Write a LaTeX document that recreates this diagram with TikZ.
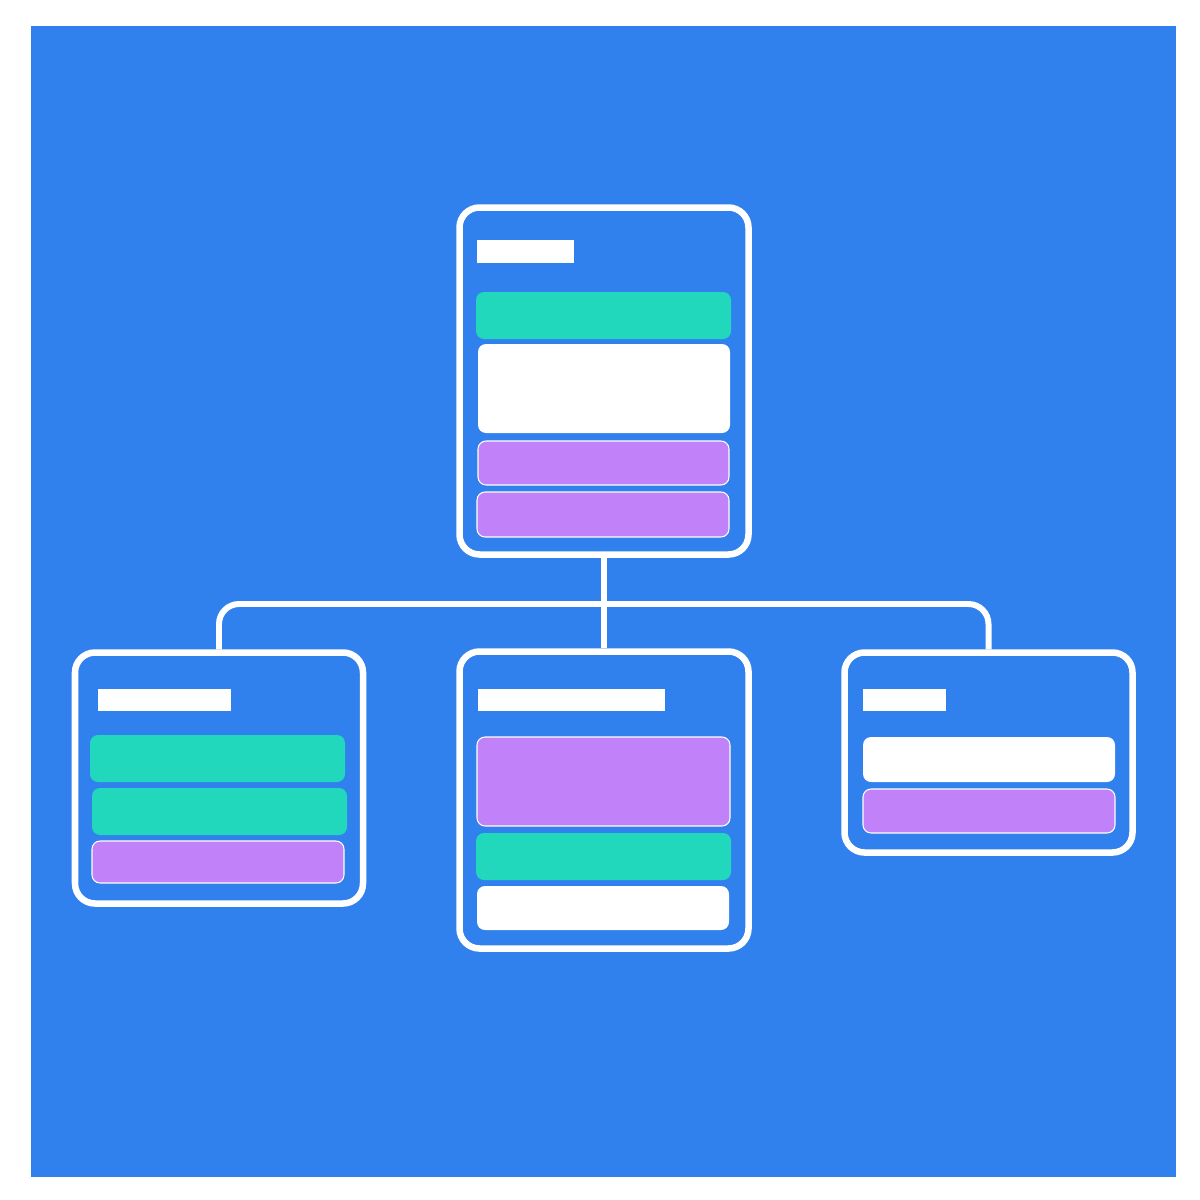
\documentclass[tikz,border=0pt]{standalone}
\definecolor{bgblue}{HTML}{3080EE}
\definecolor{mint}{HTML}{21D8BD}
\definecolor{lilac}{HTML}{C182F9}
\begin{document}
\begin{tikzpicture}[x=0.01cm, y=-0.01cm,
  card/.style={draw=white, line width=1.85pt, rounded corners=0.2cm, inner sep=0pt},
  link/.style={draw=white, line width=1.7pt, rounded corners=0.2cm},
  bar/.style={rounded corners=0.08cm}]
\fill[white] (0,0) rectangle (1200,1200);
\fill[bgblue] (31,26) rectangle (1176,1177);
% cards
\node[card, minimum width=289*0.01cm, minimum height=347*0.01cm] (top) at (604,381) {};
\node[card, minimum width=288*0.01cm, minimum height=251*0.01cm] (left) at (219,778) {};
\node[card, minimum width=289*0.01cm, minimum height=297*0.01cm] (mid) at (604,800) {};
\node[card, minimum width=288*0.01cm, minimum height=200*0.01cm] (right) at (988.5,752.5) {};
% connectors
\coordinate (bus) at (604,604);
\draw[line width=1.7pt, white] (top.south) -- (mid.north);
\draw[link] (left.north) |- (bus) -| (right.north);
% top card
\fill[white] (477,240) rectangle (574,263);
\fill[mint, bar] (476,292) rectangle (731,339);
\fill[white, bar] (478,344) rectangle (730,433);
\filldraw[lilac, draw=white, line width=0.3pt, bar] (478,441) rectangle (729,485);
\filldraw[lilac, draw=white, line width=0.3pt, bar] (477,492) rectangle (729,537);
% left card
\fill[white] (98,689) rectangle (231,711);
\fill[mint, bar] (90,735) rectangle (345,782);
\fill[mint, bar] (92,788) rectangle (347,835);
\filldraw[lilac, draw=white, line width=0.3pt, bar] (92,841) rectangle (344,883);
% middle card
\fill[white] (478,689) rectangle (665,711);
\filldraw[lilac, draw=white, line width=0.3pt, bar] (477,737) rectangle (730,826);
\fill[mint, bar] (476,833) rectangle (731,880);
\fill[white, bar] (477,886) rectangle (729,930);
% right card
\fill[white] (863,689) rectangle (946,711);
\fill[white, bar] (863,737) rectangle (1115,782);
\filldraw[lilac, draw=white, line width=0.3pt, bar] (863,789) rectangle (1115,833);
\end{tikzpicture}
\end{document}
